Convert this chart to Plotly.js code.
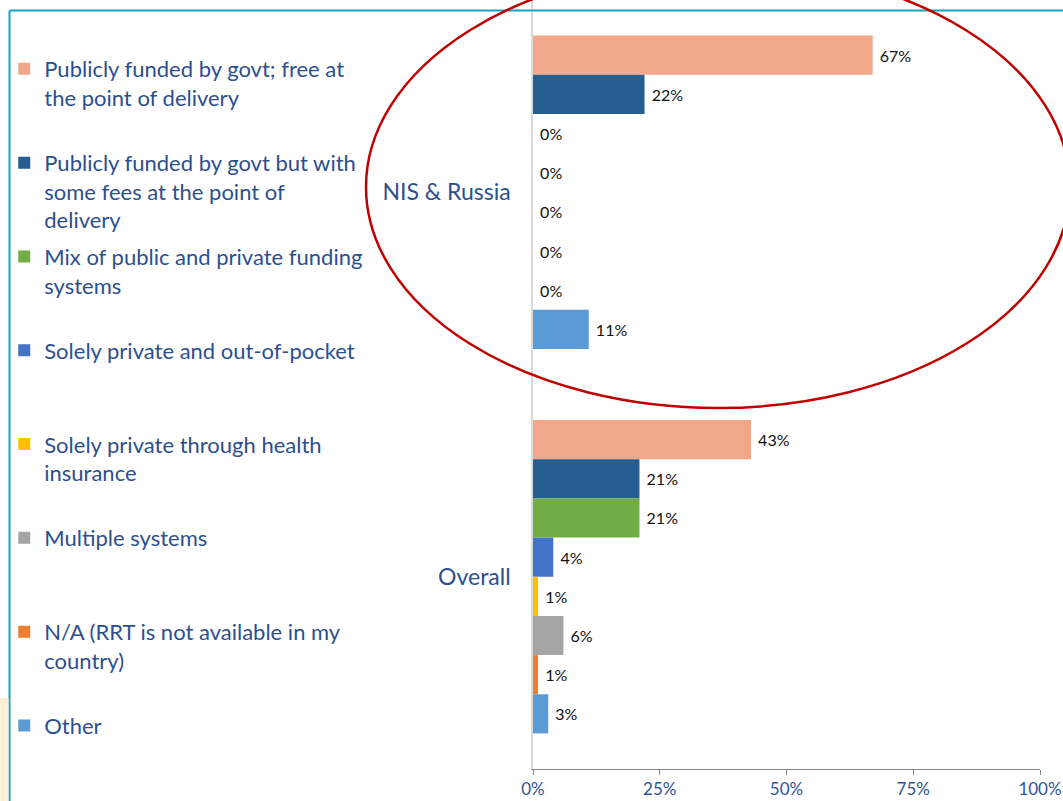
<!DOCTYPE html>
<html>
<head>
<meta charset="utf-8">
<script src="https://cdn.plot.ly/plotly-3.0.1.min.js"></script>
<style>
  html, body { margin: 0; padding: 0; background: #ffffff; }
  #chart { width: 1063px; height: 801px; }
</style>
</head>
<body>
<div id="chart"></div>
<script>
// 数据
const groups = ['NIS & Russia', 'Overall'];
const systems = [
    'Publicly funded by govt; free at<br>the point of delivery',
    'Publicly funded by govt but with<br>some fees at the point of<br>delivery',
    'Mix of public and private funding<br>systems',
    'Solely private and out-of-pocket',
    'Solely private through health<br>insurance',
    'Multiple systems',
    'N/A (RRT is not available in my<br>country)',
    'Other'
];
const nisValues = [67, 22, 0, 0, 0, 0, 0, 11];
const overallValues = [43, 21, 21, 4, 1, 6, 1, 3];
const systemColors = ['#F1A78A', '#255E91', '#70AD47', '#4472C4', '#FFC000', '#A5A5A5', '#ED7D31', '#5B9BD5'];

const textBlue = '#2D4F8E';
const fontFamily = 'Lato, "Open Sans", sans-serif';

// 绘图区域 (像素)
const W = 1063, H = 801;
const margin = { l: 533, r: 23, t: 0, b: 32 };
const plotW = W - margin.l - margin.r;
const plotH = H - margin.t - margin.b;
const px = x => (x - margin.l) / plotW;
const py = y => (plotH + margin.t - y) / plotH;

// 图例每项补足三行，保持等间距
function padLines(name) {
    const n = name.split('<br>').length;
    return name + '<br>\u00a0'.repeat(3 - n);
}

const data = systems.map((name, i) => {
    const vals = [nisValues[i], overallValues[i]].map(v => v / 100);
    return {
        type: 'bar',
        orientation: 'h',
        name: padLines(name),
        legendgroup: 'g' + i,
        y: groups,
        x: vals,
        marker: { color: systemColors[i] },
        texttemplate: '\u00a0%{x:.0%}',
        textposition: 'outside',
        cliponaxis: false,
        textfont: { family: fontFamily, size: 16, color: '#111111' },
        hoverinfo: 'x+name'
    };
});

const layout = {
    width: W,
    height: H,
    paper_bgcolor: '#ffffff',
    plot_bgcolor: '#ffffff',
    margin: margin,
    font: { family: fontFamily, color: textBlue },
    barmode: 'group',
    bargap: 0.185,
    bargroupgap: 0,
    xaxis: {
        range: [0, 1],
        tickvals: [0, 0.25, 0.5, 0.75, 1],
        tickformat: '.0%',
        ticks: 'outside',
        ticklen: 5,
        tickcolor: '#868686',
        showline: true,
        linecolor: '#868686',
        linewidth: 1,
        showgrid: false,
        zeroline: false,
        tickfont: { size: 17, color: '#2F5597' }
    },
    yaxis: {
        type: 'category',
        range: [1.5, -0.5],
        showline: true,
        linecolor: '#D9D9D9',
        linewidth: 1.5,
        showgrid: false,
        zeroline: false,
        ticks: '',
        ticklabelstandoff: 16,
        tickfont: { size: 23, color: textBlue }
    },
    showlegend: true,
    legend: {
        xref: 'container',
        yref: 'container',
        x: 0.004,
        y: 0.94,
        xanchor: 'left',
        yanchor: 'top',
        maxheight: 790,
        traceorder: 'grouped',
        tracegroupgap: 5,
        valign: 'top',
        bgcolor: 'rgba(0,0,0,0)',
        font: { size: 22, color: textBlue }
    },
    shapes: [
        // 幻灯片边框
        { type: 'line', xref: 'paper', yref: 'paper', x0: px(9.5), x1: px(1070), y0: py(10.5), y1: py(10.5),
          line: { color: '#17A2C0', width: 2 } },
        { type: 'line', xref: 'paper', yref: 'paper', x0: px(9.5), x1: px(9.5), y0: py(10.5), y1: py(810),
          line: { color: '#17A2C0', width: 2 } },
        { type: 'rect', xref: 'paper', yref: 'paper', x0: px(0), x1: px(8.5), y0: py(698), y1: py(810),
          fillcolor: '#FDEFD3', line: { width: 0 } },
        // 红色椭圆
        { type: 'circle', xref: 'paper', yref: 'paper', x0: px(366), x1: px(1070), y0: py(408), y1: py(-34),
          line: { color: '#C00000', width: 2.5 } }
    ]
};

Plotly.newPlot('chart', data, layout, { displayModeBar: false, responsive: false });
</script>
</body>
</html>
